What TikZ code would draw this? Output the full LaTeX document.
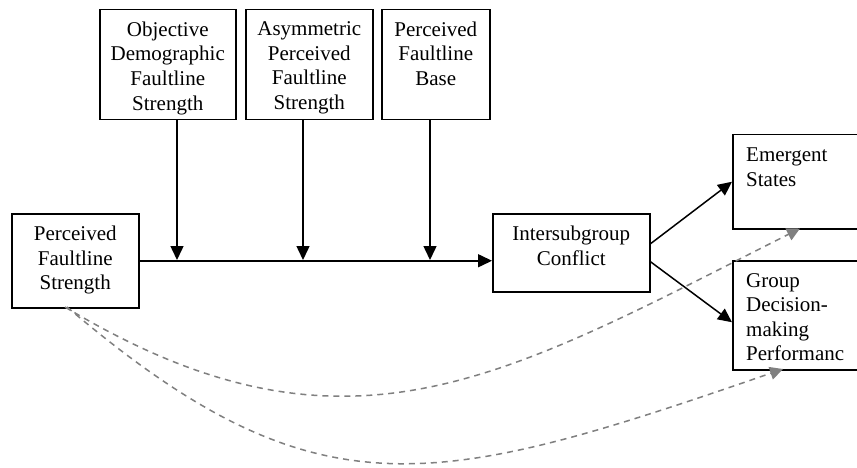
\documentclass[tikz,border=0pt]{standalone}
\usepackage{fontspec}
\setmainfont{Liberation Serif}
\usetikzlibrary{arrows.meta,calc}
\begin{document}
\begin{tikzpicture}[x=1pt,y=-1pt,
  box/.style={draw=black,line width=1.5pt,rectangle,inner sep=0pt,anchor=north west},
  lbl/.style={inner sep=0pt,font=\fontsize{21}{24.6}\selectfont},
  arr/.style={line width=1.5pt,-{Triangle[length=14pt,width=13pt]}},
  darr/.style={line width=1.5pt,draw={rgb,255:red,128;green,128;blue,128},dash pattern=on 6pt off 5pt,
    -{Triangle[length=13pt,width=13pt,fill={rgb,255:red,128;green,128;blue,128}]}}]
\clip (0,0) rectangle (857,468);
\fill[white] (0,0) rectangle (857,468);
% boxes
\node[box,minimum width=136pt,minimum height=110pt] (obj) at (99,9) {};
\node[box,minimum width=127pt,minimum height=110pt] (asy) at (245,9) {};
\node[box,minimum width=108pt,minimum height=110pt] (base) at (381,9) {};
\node[box,minimum width=127pt,minimum height=94pt] (pfs) at (11,213) {};
\node[box,minimum width=157pt,minimum height=78pt] (isg) at (492,213) {};
\node[box,minimum width=140pt,minimum height=94pt] (em) at (732,134) {};
\node[box,minimum width=140pt,minimum height=109pt] (grp) at (732,260) {};
% labels
\node[lbl,align=center,anchor=north] (tobj) at ([yshift=-12.5pt]obj.north) {Objective\\Demographic\\Faultline\\Strength};
\node[lbl,align=center,anchor=north] (tasy) at ([yshift=-12.5pt]asy.north) {Asymmetric\\Perceived\\Faultline\\Strength};
\node[lbl,align=center,anchor=north] (tbase) at ([yshift=-12.5pt]base.north) {Perceived\\Faultline\\Base};
\node[lbl,align=center,anchor=north] (tpfs) at ([yshift=-13pt]pfs.north) {Perceived\\Faultline\\Strength};
\node[lbl,align=center,anchor=north] (tisg) at ([yshift=-13pt]isg.north) {Intersubgroup\\Conflict};
\node[lbl,align=left,anchor=north west] (tem) at ([xshift=14pt,yshift=-14pt]em.north west) {Emergent\\States};
\node[lbl,align=left,anchor=north west] (tgrp) at ([xshift=14pt,yshift=-13pt]grp.north west) {Group\\Decision-\\making\\Performanc};
% main path
\coordinate (m1) at (177,260);
\coordinate (m2) at (303,260);
\coordinate (m3) at (430,260);
\draw[arr] (pfs.east) -- (pfs.east -| isg.west);
\draw[arr] (m1 |- obj.south) -- (m1);
\draw[arr] (m2 |- asy.south) -- (m2);
\draw[arr] (m3 |- base.south) -- (m3);
\draw[arr] ([yshift=9pt]isg.east) -- (em.west);
\draw[arr] ([yshift=-9pt]isg.east) -- ([yshift=-7pt]grp.west);
% dashed curves
\coordinate (s1) at (65,307);
\coordinate (s2) at (67,307);
\coordinate (e1) at (800,228.5);
\coordinate (e2) at (783,369);
\draw[darr] (s1) .. controls (345,475) and (500,380) .. (e1);
\draw[darr] (s2) .. controls (317,519) and (433,490) .. (e2);
\end{tikzpicture}
\end{document}
